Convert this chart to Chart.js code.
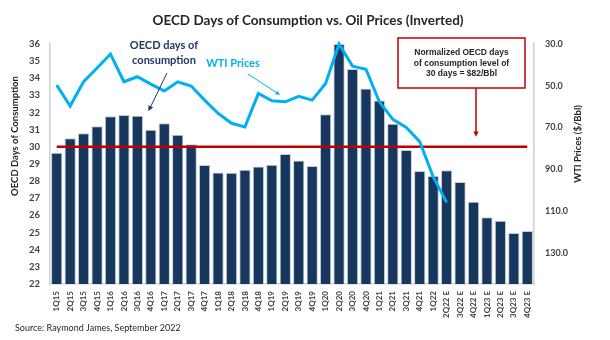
<!DOCTYPE html>
<html>
<head>
<meta charset="utf-8">
<script src="https://cdn.jsdelivr.net/npm/chart.js@4"></script>
<style>
  html, body { margin: 0; padding: 0; background: #fff; }
  #wrap { width: 610px; height: 340px; }
</style>
</head>
<body>
<div id="wrap"><canvas id="myChart" width="610" height="340"></canvas></div>
<script>
const quarters = ['1Q15','2Q15','3Q15','4Q15','1Q16','2Q16','3Q16','4Q16','1Q17','2Q17','3Q17','4Q17',
    '1Q18','2Q18','3Q18','4Q18','1Q19','2Q19','3Q19','4Q19','1Q20','2Q20','3Q20','4Q20',
    '1Q21','2Q21','3Q21','4Q21','1Q22','2Q22 E','3Q22 E','4Q22 E','1Q23 E','2Q23 E','3Q23 E','4Q23 E'];

// OECD days of consumption (left axis)
const oecdDays = [29.65, 30.5, 30.8, 31.2, 31.78, 31.86, 31.82, 31.0, 31.37, 30.71, 30.15, 28.94,
    28.51, 28.49, 28.67, 28.86, 28.96, 29.58, 29.21, 28.88, 31.9, 36.0, 34.54, 33.41,
    32.71, 31.35, 29.82, 28.59, 28.3, 28.63, 27.95, 26.8, 25.89, 25.69, 24.97, 25.09];

// WTI $/Bbl (right axis, inverted) - no forecast after 2Q22
const wtiPrices = [49.7, 59.7, 48.1, 41.5, 34.8, 48.1, 45.7, 49.2, 52.5, 48.1, 50.1, 56.9,
    63.2, 68.0, 69.7, 53.7, 57.2, 57.7, 55.1, 56.9, 48.9, 30.0, 40.6, 42.1,
    57.7, 66.1, 70.0, 76.8, 93.6, 105.9, null, null, null, null, null, null];

const normalDays = 30;
const leftRange = [22, 36];
const rightRange = [30, 145];
const rightTicks = [30, 50, 70, 90, 110, 130];

const titleText = 'OECD Days of Consumption vs. Oil Prices (Inverted)';
const sourceText = 'Source: Raymond James, September 2022';
const boxLines = ['Normalized OECD days', 'of consumption level of', '30 days = $82/Bbl'];

const navy = '#17375e';
const wtiBlue = '#00b0f0';
const red = '#c00000';
const tickColor = '#404040';

function arrow(ctx, x1, y1, x2, y2, color, width, head) {
    const a = Math.atan2(y2 - y1, x2 - x1);
    ctx.save();
    ctx.strokeStyle = color;
    ctx.fillStyle = color;
    ctx.lineWidth = width;
    ctx.beginPath();
    ctx.moveTo(x1, y1);
    ctx.lineTo(x2 - Math.cos(a) * head * 0.8, y2 - Math.sin(a) * head * 0.8);
    ctx.stroke();
    ctx.beginPath();
    ctx.moveTo(x2, y2);
    ctx.lineTo(x2 - head * Math.cos(a - 0.45), y2 - head * Math.sin(a - 0.45));
    ctx.lineTo(x2 - head * Math.cos(a + 0.45), y2 - head * Math.sin(a + 0.45));
    ctx.closePath();
    ctx.fill();
    ctx.restore();
}

// titles, source line and callouts
const notes = {
    id: 'notes',
    afterDraw(chart) {
        const ctx = chart.ctx;
        const x = chart.scales.x;
        const y = chart.scales.y;
        ctx.save();
        ctx.textAlign = 'center';
        ctx.textBaseline = 'middle';

        ctx.fillStyle = '#262626';
        ctx.font = 'bold 13.5px Lato';
        ctx.fillText(titleText, 308, 21);

        // axis titles, both reading upwards
        ctx.font = 'bold 9.5px Lato';
        ctx.save();
        ctx.translate(15, 136);
        ctx.rotate(-Math.PI / 2);
        ctx.fillText('OECD Days of Consumption', 0, 0);
        ctx.restore();
        ctx.save();
        ctx.translate(578, 144);
        ctx.rotate(-Math.PI / 2);
        ctx.fillText('WTI Prices ($/Bbl)', 0, 0);
        ctx.restore();

        ctx.textAlign = 'left';
        ctx.font = '9px Lato';
        ctx.fillText(sourceText, 15, 328);

        // series callouts
        ctx.textAlign = 'center';
        ctx.font = 'bold 11px Lato';
        ctx.fillStyle = '#1f3864';
        ctx.fillText('OECD days of', 164, 45);
        ctx.fillText('consumption', 164, 60);
        arrow(ctx, 167, 73, x.getPixelForValue(6) + 11, y.getPixelForValue(31.9) - 3, '#1f3864', 1, 6);

        ctx.fillStyle = wtiBlue;
        ctx.fillText('WTI Prices', 233, 63);
        arrow(ctx, 248, 74, 280, 95, wtiBlue, 1, 5);

        // normalized level box
        const bx = 398, by = 38, bw = 127, bh = 50;
        ctx.fillStyle = '#fff';
        ctx.fillRect(bx, by, bw, bh);
        ctx.strokeStyle = red;
        ctx.lineWidth = 1.5;
        ctx.strokeRect(bx, by, bw, bh);
        ctx.fillStyle = '#262626';
        ctx.font = 'bold 8.5px "Liberation Sans"';
        boxLines.forEach((t, i) => ctx.fillText(t, bx + bw / 2, by + 15 + i * 10.5));
        arrow(ctx, 476, by + bh, 476, y.getPixelForValue(normalDays) - 10, red, 1.5, 6);
        ctx.restore();
    }
};

const ctx = document.getElementById('myChart');

new Chart(ctx, {
    type: 'bar',
    data: {
        labels: quarters,
        datasets: [{
            type: 'line',
            data: wtiPrices,
            yAxisID: 'y1',
            borderColor: wtiBlue,
            borderWidth: 3,
            pointRadius: 0,
            tension: 0,
            clip: false,
            order: 1
        }, {
            type: 'line',
            data: quarters.map(() => normalDays),
            yAxisID: 'y',
            borderColor: red,
            borderWidth: 2.5,
            pointRadius: 0,
            order: 2
        }, {
            data: oecdDays,
            yAxisID: 'y',
            backgroundColor: navy,
            borderColor: '#c3ccd8',
            borderWidth: 1,
            barPercentage: 0.84,
            categoryPercentage: 1,
            order: 3
        }]
    },
    options: {
        responsive: false,
        animation: false,
        layout: {padding: {top: 44, left: 0, right: 0, bottom: 0}},
        plugins: {
            legend: {display: false},
            tooltip: {enabled: false}
        },
        scales: {
            x: {
                grid: {display: false, drawTicks: false},
                border: {display: true, color: '#d0d0d0', width: 1.5},
                ticks: {
                    autoSkip: false,
                    minRotation: 90,
                    maxRotation: 90,
                    padding: 7,
                    color: tickColor,
                    font: {family: 'Lato', size: 8, weight: 'bold'}
                },
                afterFit(scale) { scale.height = 56; }
            },
            y: {
                position: 'left',
                min: leftRange[0],
                max: leftRange[1],
                grid: {display: false, drawTicks: false},
                border: {display: true, color: '#d0d0d0', width: 1.5},
                ticks: {
                    stepSize: 1,
                    padding: 10,
                    color: tickColor,
                    font: {family: 'Lato', size: 9.5, weight: 'bold'}
                },
                afterFit(scale) { scale.width = 50; }
            },
            y1: {
                position: 'right',
                reverse: true,
                min: rightRange[0],
                max: rightRange[1],
                grid: {display: false, drawTicks: false},
                border: {display: true, color: '#d0d0d0', width: 1.5},
                afterBuildTicks(scale) {
                    scale.ticks = rightTicks.map(v => ({value: v}));
                },
                ticks: {
                    padding: 11,
                    color: tickColor,
                    font: {family: 'Lato', size: 9, weight: 'bold'},
                    callback: (v) => Number(v).toFixed(1)
                },
                afterFit(scale) { scale.width = 76; }
            }
        }
    },
    plugins: [notes]
});
</script>
</body>
</html>
